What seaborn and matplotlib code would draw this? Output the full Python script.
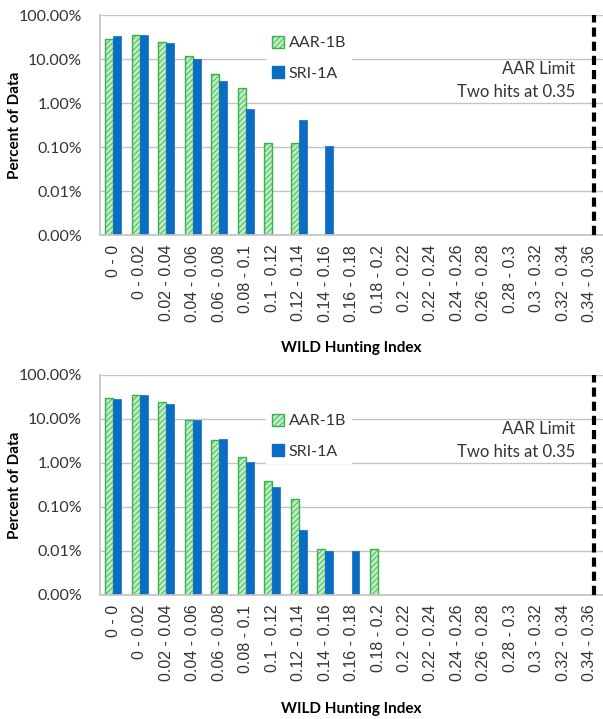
import numpy as np
import pandas as pd
import matplotlib
matplotlib.use("Agg")
import matplotlib.pyplot as plt
from matplotlib.patches import Patch
from matplotlib.ticker import FixedLocator, FuncFormatter, NullFormatter
import seaborn as sns

"""
Data : percent of data per WILD hunting index bin
"""
bins = ["0 - 0", "0 - 0.02", "0.02 - 0.04", "0.04 - 0.06", "0.06 - 0.08",
        "0.08 - 0.1", "0.1 - 0.12", "0.12 - 0.14", "0.14 - 0.16", "0.16 - 0.18",
        "0.18 - 0.2", "0.2 - 0.22", "0.22 - 0.24", "0.24 - 0.26", "0.26 - 0.28",
        "0.28 - 0.3", "0.3 - 0.32", "0.32 - 0.34", "0.34 - 0.36"]
series = ["AAR-1B", "SRI-1A"]

# top chart (None = no hits in that bin)
top_aar = [28.5, 35.5, 25.0, 11.5, 4.5, 2.2, 0.125, 0.125, None, None,
           None, None, None, None, None, None, None, None, None]
top_sri = [33.0, 34.5, 23.0, 10.0, 3.1, 0.75, None, 0.42, 0.105, None,
           None, None, None, None, None, None, None, None, None]

# bottom chart
bot_aar = [29.5, 34.5, 24.3, 9.5, 3.3, 1.4, 0.39, 0.15, 0.011, None,
           0.011, None, None, None, None, None, None, None, None]
bot_sri = [28.5, 34.5, 22.3, 9.5, 3.5, 1.05, 0.28, 0.03, 0.0101, 0.0101,
           None, None, None, None, None, None, None, None, None]

limit_text = "AAR Limit\nTwo hits at 0.35"
limit_pos = 18.15  # 0.35 inside the last bin

GREEN_FACE = "#bfeac3"
GREEN_EDGE = "#36b44a"
BLUE = "#0a6cc2"
GRID = "#c4c4c4"
TEXT = "#333333"


def to_frame(aar, sri):
    rows = []
    for b, a, s in zip(bins, aar, sri):
        if a is not None:
            rows.append({"bin": b, "series": series[0], "pct": a})
        if s is not None:
            rows.append({"bin": b, "series": series[1], "pct": s})
    return pd.DataFrame(rows)


def pct_fmt(v, pos):
    return "{:.2f}%".format(v)


def draw_panel(ax, df, legend_y, xlabelpad):
    sns.barplot(data=df, x="bin", y="pct", hue="series", order=bins,
                hue_order=series, palette=[GREEN_FACE, BLUE], width=0.6,
                dodge=True, legend=False, ax=ax, errorbar=None, saturation=1)

    # hatched green bars
    for bar in ax.containers[0]:
        bar.set_facecolor(GREEN_FACE)
        bar.set_edgecolor(GREEN_EDGE)
        bar.set_hatch("//////")
        bar.set_linewidth(1.0)
    for bar in ax.containers[1]:
        bar.set_edgecolor(BLUE)
        bar.set_linewidth(0.5)

    ax.set_yscale("log")
    ax.set_ylim(1e-3, 100)
    ax.set_xlim(-0.5, len(bins) - 0.5)
    ax.yaxis.set_major_locator(FixedLocator([1e-3, 1e-2, 1e-1, 1, 10, 100]))
    ax.yaxis.set_major_formatter(FuncFormatter(pct_fmt))
    ax.yaxis.set_minor_locator(FixedLocator([]))
    ax.grid(axis="y", color=GRID, linewidth=1.0)
    ax.grid(axis="x", visible=False)
    ax.set_axisbelow(True)

    for side in ["top", "right"]:
        ax.spines[side].set_visible(False)
    ax.spines["left"].set_color(GRID)
    ax.spines["bottom"].set_color(GRID)

    # ticks between categories on x
    ax.set_xticks(range(len(bins)))
    ax.set_xticklabels(bins, rotation=90, fontsize=11.5, color=TEXT,
                       family=["Liberation Sans", "DejaVu Sans"])
    ax.xaxis.set_minor_locator(FixedLocator(np.arange(-0.5, len(bins), 1.0)))
    ax.xaxis.set_minor_formatter(NullFormatter())
    ax.tick_params(axis="x", which="major", length=0, pad=7)
    ax.tick_params(axis="x", which="minor", length=5, color=GRID, width=1)
    ax.tick_params(axis="y", which="major", length=5, color=GRID, width=1,
                   labelsize=11.5, labelcolor=TEXT, pad=8)

    ax.set_xlabel("WILD Hunting Index", fontsize=11, fontweight="bold",
                  labelpad=xlabelpad, color="black")
    ax.set_ylabel("Percent of Data", fontsize=11, fontweight="bold", color="black")
    ax.yaxis.set_label_coords(-0.155, 0.5)

    # limit line
    ax.axvline(limit_pos, color="black", linestyle=(0, (2.2, 1.2)), linewidth=3,
               zorder=5)
    ax.text(0.945, 0.79, limit_text, transform=ax.transAxes,
            ha="right", va="top", fontsize=12, color=TEXT,
            linespacing=1.5)

    handles = [Patch(facecolor=GREEN_FACE, edgecolor=GREEN_EDGE, hatch="//////",
                     label=series[0]),
               Patch(facecolor=BLUE, edgecolor=BLUE, label=series[1])]
    leg = ax.legend(handles=handles, loc="upper left",
                    bbox_to_anchor=(0.315, legend_y), frameon=True,
                    fontsize=11.5, handlelength=0.75, handleheight=0.75,
                    handletextpad=0.3, labelspacing=1.0, borderpad=0.35,
                    framealpha=1, facecolor="white", edgecolor="white",
                    fancybox=False, labelcolor=TEXT)
    leg.get_frame().set_linewidth(0)


if __name__ == '__main__':
    sns.set_theme(style="white")
    plt.rcParams["font.family"] = ["Lato", "DejaVu Sans"]
    plt.rcParams["hatch.linewidth"] = 0.6

    fig = plt.figure(figsize=(6.03, 7.19), dpi=100)
    ax1 = fig.add_axes([0.166, 0.673, 0.834, 0.306])
    ax2 = fig.add_axes([0.166, 0.1725, 0.834, 0.306])

    draw_panel(ax1, to_frame(top_aar, top_sri), 0.967, 14)
    draw_panel(ax2, to_frame(bot_aar, bot_sri), 0.885, 15)

    fig.savefig("out.png", dpi=100)
